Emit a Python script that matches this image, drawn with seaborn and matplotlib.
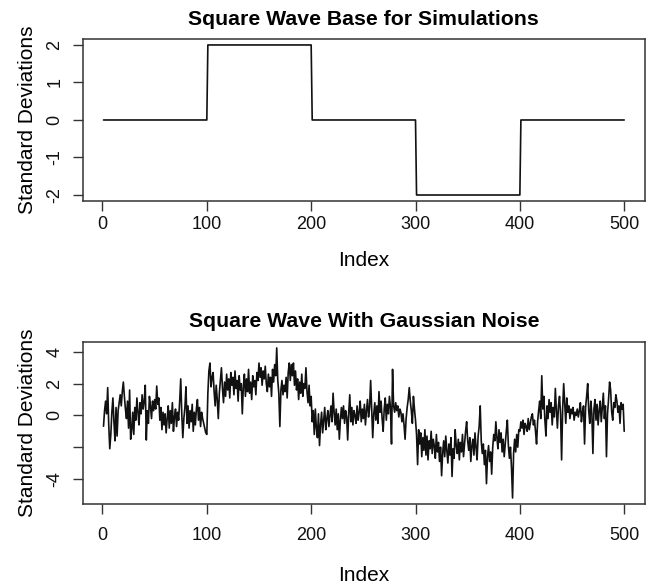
import numpy as np
import pandas as pd
import matplotlib
matplotlib.use('Agg')
import matplotlib.pyplot as plt
import seaborn as sns

# square wave corners (index, level)
step_x = [1, 100, 101, 200, 201, 300, 301, 400, 401, 500]
step_y = [0, 0, 2, 2, 0, 0, -2, -2, 0, 0]

# noisy series, 100 points per block
noise_1 = [-0.68, 0.3, 0.9, 0.1, 1.75, -0.6, -2.1, -1.2, 0.2, 1.1,
           -0.4, -1.6, 0.5, -1.3, 0.3, 0.8, 1.3, 0.6, 1.5, 2.1,
           1.2, 0.4, -0.2, 0.9, -0.8, 1.6, -1.5, -0.9, 0.2, -1.2,
           0.5, -0.3, 1.1, 0.2, -0.6, 0.8, 0.1, 1.3, 0.4, 0.9,
           1.9, -1.55, 0.3, -0.5, 1.2, 0.6, -0.2, 0.9, 0.3, 1.0,
           0.4, 1.85, 0.7, 1.1, -0.3, 0.5, -0.9, 0.2, -0.6, 0.1,
           -1.1, -0.2, 0.6, -0.8, 0.3, -0.5, 0.8, -1.0, -0.1, 0.4,
           -0.7, 0.2, -0.3, 0.9, 2.3, 0.1, -1.4, -0.2, 0.5, 1.8,
           -0.5, 0.6, -0.8, 0.3, -0.4, 0.7, -1.0, 0.2, -0.6, 0.4,
           1.0, -0.3, 0.5, -0.7, 0.2, -0.2, -0.5, -0.8, -1.1, -1.2]
noise_2 = [1.4, 2.8, 3.3, 1.8, 2.4, 2.7, 1.5, 0.6, 1.9, 1.0,
           -0.2, 1.4, 2.2, 3.0, 1.7, 0.8, 2.1, 1.2, 2.6, 1.6,
           2.3, 1.1, 2.7, 1.9, 2.4, 1.3, 2.8, 1.7, 2.2, 0.9,
           2.5, 1.6, 2.0, 0.1, 1.8, 2.6, 1.2, 2.3, 1.5, 2.9,
           1.4, 2.1, 1.0, 2.5, 1.8, 2.2, 1.3, 2.7, 2.2, 3.3,
           2.4, 3.0, 1.9, 2.8, 2.3, 3.1, 2.0, 1.5, 2.6, 1.8,
           2.4, 1.2, 2.9, 2.1, 3.2, 2.5, 4.25, 2.2, 1.4, -0.7,
           1.6, 2.2, 1.3, 1.9, 1.5, 2.4, 1.1, 2.7, 3.3, 2.2,
           3.2, 2.5, 3.3, 1.9, 2.8, 1.6, 2.3, 1.0, 2.1, 1.4,
           2.6, 1.2, 2.0, 1.7, 3.0, 1.5, 0.8, 1.9, 0.6, 1.2]
noise_3 = [-0.4, 0.3, -1.2, 0.4, -0.8, -1.4, 0.1, -1.9, -0.6, 0.2,
           -1.1, -0.3, 0.5, -0.9, -0.2, 0.3, -0.7, 0.0, 0.6, -0.4,
           1.4, 0.2, -0.6, 0.4, -0.9, 0.1, -1.5, -0.3, 0.5, -0.2,
           0.6, -0.5, 0.3, -0.1, -1.55, 0.2, 1.3, -0.4, 0.5, -0.6,
           0.3, 0.0, -0.5, 0.6, -0.3, 0.2, 0.9, -0.4, 0.4, -0.2,
           0.7, -0.6, 0.3, 1.0, -0.1, 0.5, 2.2, 0.3, -1.4, 0.1,
           0.8, -0.3, 0.6, -0.5, 1.5, 0.2, 0.9, -0.2, -1.0, 0.4,
           1.1, -0.3, 0.7, 0.1, 1.2, 0.5, -1.8, 2.9, 0.6, 0.2,
           0.8, 0.3, 0.6, -0.1, 0.4, 0.2, -0.4, 0.1, -0.6, -1.5,
           -0.2, 0.5, 1.0, 1.75, 0.9, 0.3, -0.5, 1.2, 0.4, -0.3]
noise_4 = [-1.2, -3.1, -0.9, -1.8, -1.1, -2.6, -1.4, -2.2, -0.9, -2.5,
           -1.3, -2.8, -1.6, -2.1, -1.0, -2.4, -1.5, -1.9, -2.7, -1.2,
           -2.3, -1.7, -2.9, -2.0, -3.8, -2.4, -1.6, -2.6, -1.3, -2.2,
           -3.0, -1.8, -2.5, -1.4, -3.85, -2.1, -2.7, -0.9, -1.9, -2.4,
           -1.5, -2.8, -1.7, -2.3, -1.2, -2.6, -1.8, -1.0, -0.4, -1.6,
           -2.2, -1.4, -2.9, -1.9, -1.5, -2.5, -1.1, -2.0, -2.8, -1.3,
           -0.7, 0.6, -1.6, -2.4, -1.8, -3.1, -2.2, -4.3, -2.6, -1.9,
           -2.9, -2.3, -3.7, -2.0, -1.2, -1.6, -0.4, -1.4, -2.1, -0.9,
           -1.7, -1.1, -2.3, -1.5, -2.6, -1.8, -1.0, -0.3, -1.9, -2.7,
           -2.0, -3.3, -5.2, -2.4, -1.5, -2.3, -1.2, -2.0, -0.9, -1.0]
noise_5 = [-0.4, -0.8, -0.3, -1.2, -0.5, -0.7, -1.0, -0.2, -0.9, -0.5,
           -0.1, 0.1, -0.6, -0.3, -1.0, -1.8, -0.4, 0.3, 0.9, -0.2,
           2.5, 0.4, 1.2, -0.3, -1.3, 0.6, -0.2, 1.0, 0.2, 0.8,
           -0.6, 0.5, -0.1, 1.7, 0.3, -0.8, 0.6, 1.2, 0.1, -2.8,
           0.4, 2.0, 0.7, -0.5, 1.1, 0.2, 0.6, -0.2, 0.4, 0.1,
           0.5, -0.3, 0.2, 0.0, 0.4, -0.1, 0.3, 0.8, -0.4, 0.2,
           0.6, -1.8, 0.5, 1.2, 2.0, 0.3, -0.5, 0.9, 0.1, -2.4,
           0.4, 1.0, -0.3, 0.7, -0.6, 0.3, 0.9, -0.4, 0.5, 1.4,
           -0.2, 0.6, -2.6, 0.1, 1.0, 2.1, 1.6, 0.2, -0.3, 0.8,
           0.5, 1.3, 0.9, 0.2, 0.6, -0.5, 0.8, 0.4, 0.7, -1.0]

x_ticks = [0, 100, 200, 300, 400, 500]
top_yticks = [-2, -1, 0, 1, 2]
bot_yticks = [-4, -2, 0, 2, 4]
bot_ylabels = ['-4', '', '0', '2', '4']

noisy = noise_1 + noise_2 + noise_3 + noise_4 + noise_5
df_base = pd.DataFrame({'Index': step_x, 'value': step_y})
df_noise = pd.DataFrame({'Index': np.arange(1, len(noisy) + 1), 'value': noisy})

sns.set_style('ticks')
plt.rcParams['font.family'] = ['Liberation Sans', 'DejaVu Sans']
plt.rcParams['axes.unicode_minus'] = False
plt.rcParams['text.color'] = 'black'
plt.rcParams['axes.labelcolor'] = 'black'

fig = plt.figure(figsize=(6.46, 5.85), dpi=100)
ax1 = fig.add_axes([0.128, 0.6564, 0.8705, 0.277])
ax2 = fig.add_axes([0.128, 0.1385, 0.8705, 0.277])

line_kw = dict(color='#111111', linewidth=1.2, estimator=None)
sns.lineplot(data=df_base, x='Index', y='value', ax=ax1, **line_kw)
sns.lineplot(data=df_noise, x='Index', y='value', ax=ax2, **line_kw)


def r_style(ax, title, xpad, labpad):
    ax.set_xlim(-18.96, 519.96)
    ax.set_xticks(x_ticks)
    for s in ax.spines.values():
        s.set_visible(True)
        s.set_color('#333333')
        s.set_linewidth(1.1)
    ax.tick_params(axis='both', direction='out', length=7.2, width=1.0,
                   color='#333333', labelsize=13, labelcolor='#111111',
                   bottom=True, left=True)
    ax.tick_params(axis='x', pad=xpad)
    ax.tick_params(axis='y', pad=6.8)
    plt.setp(ax.get_yticklabels(), rotation=90, va='center')
    ax.set_title(title, fontsize=15.3, fontweight='bold', pad=10.4, color='black')
    ax.set_xlabel('Index', fontsize=15, labelpad=labpad)
    ax.set_ylabel('Standard Deviations', fontsize=15, labelpad=6.9)


ax1.set_ylim(-2.16, 2.16)
ax1.set_yticks(top_yticks)
r_style(ax1, 'Square Wave Base for Simulations', 3.3, 13)

ax2.set_ylim(-5.578, 4.628)
ax2.set_yticks(bot_yticks)
ax2.set_yticklabels(bot_ylabels)
r_style(ax2, 'Square Wave With Gaussian Noise', 9.3, 15.8)

fig.savefig('out.png', dpi=100)
